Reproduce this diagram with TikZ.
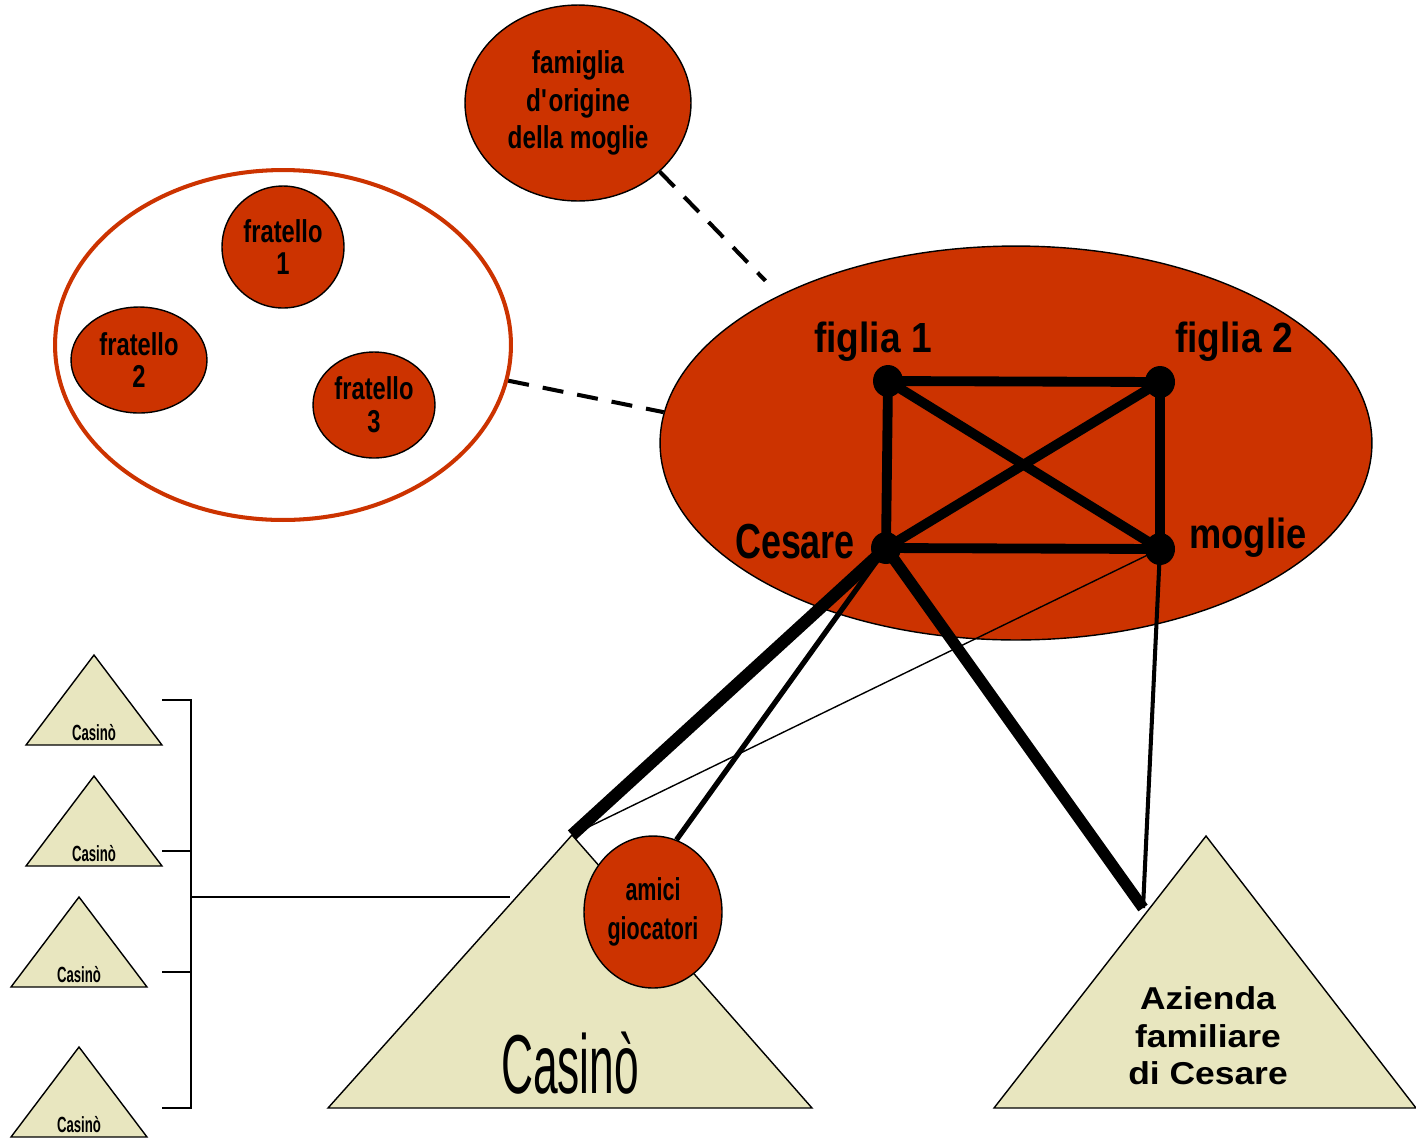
\documentclass[tikz,border=0pt]{standalone}
\usepackage{fontspec}
\setmainfont{Liberation Sans}
\usetikzlibrary{shapes.geometric,positioning}
\definecolor{rosso}{HTML}{CC3300}
\definecolor{sabbia}{HTML}{E8E6BF}
\newcommand{\carattere}[4]{#1\addfontfeatures{FakeStretch=#2}\fontsize{#3}{#4}\selectfont}
\tikzset{
  nodo/.style={ellipse, draw=black, line width=0.8pt, fill=rosso, inner sep=0pt, align=center},
  punto/.style={ellipse, fill=black, minimum width=0.6cm, minimum height=0.64cm, inner sep=0pt},
  nome/.style={anchor=base, inner sep=0pt},
  legame/.style={line width=2.3pt, dash pattern=on 12pt off 8pt},
  forte/.style={line width=5.6pt},
  piramide/.style={draw=black, fill=sabbia, line width=0.8pt},
  parentesi/.style={line width=0.9pt},
}

\begin{document}
\begin{tikzpicture}[x=0.02cm, y=-0.02cm]
  \useasboundingbox (0,0) rectangle (1416,1144);

  % famiglia d'origine e fratelli
  \node[nodo, minimum width=4.52cm, minimum height=3.92cm,
    font=\carattere{\bfseries}{0.77}{18}{21.5}] (fam) at (578,103) {famiglia\\d\textquotesingle origine\\della moglie};
  \node[ellipse, draw=rosso, line width=2.3pt, fill=white, minimum width=9.12cm, minimum height=7cm] (fratelli) at (283,345) {};
  \node[nodo, minimum width=2.44cm, minimum height=2.44cm,
    font=\carattere{\bfseries}{0.75}{18}{18.7}] (fr1) at (283,247) {fratello\\1};
  \node[nodo, minimum width=2.72cm, minimum height=2.12cm,
    font=\carattere{\bfseries}{0.75}{18}{18.7}] (fr2) at (139,360) {fratello\\2};
  \node[nodo, minimum width=2.44cm, minimum height=2.12cm,
    font=\carattere{\bfseries}{0.75}{18}{18.7}] (fr3) at (374,405) {fratello\\3};

  % nucleo familiare
  \node[nodo, minimum width=14.24cm, minimum height=7.88cm] (nucleo) at (1016,443) {};
  \draw[legame] (fam.-40) -- (nucleo.148) [shorten >=0.4cm];
  \draw[legame] (fratelli.-9) -- (nucleo.175);

  \node[punto] (f1) at (888,381) {};
  \node[punto] (f2) at (1160,382) {};
  \node[punto] (ces) at (886,548) {};
  \node[punto] (mog) at (1160,549) {};
  \node[nome, font=\carattere{\bfseries}{0.88}{24}{28}] at (873,352) {figlia 1};
  \node[nome, font=\carattere{\bfseries}{0.88}{24}{28}] at (1234,352) {figlia 2};
  \node[nome, font=\carattere{\bfseries}{0.73}{28}{32}] at (795,558) {Cesare};
  \node[nome, font=\carattere{\bfseries}{0.86}{24}{28}] at (1248,548) {moglie};

  \draw[forte] (f1.center) -- (f2.center) -- (mog.center) -- (ces.center) -- cycle;
  \draw[forte] (f1.center) -- (mog.center);
  \draw[forte] (f2.center) -- (ces.center);

  % casino e azienda
  \coordinate (apice) at (572,835);
  \coordinate (tocco) at (1143,908);
  \draw[piramide] (apice) -- (812,1108) -- (328,1108) -- cycle;
  \draw[piramide] (1206,836) -- (1416,1108) -- (994,1108) -- cycle;
  \node[nome, font=\carattere{\mdseries}{0.53}{47.6}{52}] (casino) at (570,1093) {Casinò};
  \node[align=center, inner sep=0pt, font=\carattere{\bfseries}{1.12}{18}{21.3}] (azienda) at (1208,1036)
    {Azienda\\familiare\\di Cesare};
  \node[nodo, minimum width=2.76cm, minimum height=3.04cm,
    font=\carattere{\bfseries}{0.68}{18}{22}] (amici) at (653,912) {amici\\giocatori};

  \draw[line width=7pt] (ces.center) -- (apice);
  \draw[line width=0.8pt] (mog.center) -- (apice);
  \draw[line width=3pt] (ces.center) -- (amici.72);
  \draw[line width=6.5pt] (ces.center) -- (tocco);
  \draw[line width=2.3pt] (mog.center) -- (tocco);

  % altri casino
  \foreach \x/\y [count=\i] in {94/655, 94/776, 79/897, 79/1047} {
    \draw[piramide] (\x,\y) -- (\x+68,\y+90) -- (\x-68,\y+90) -- cycle;
    \node[nome, font=\carattere{\bfseries}{0.6}{12.5}{14}] (cas\i) at (\x,\y+85) {Casinò};
  }
  \coordinate (g1) at (162,700);
  \coordinate (g2) at (162,851);
  \coordinate (g3) at (162,972);
  \coordinate (g4) at (162,1108);
  \coordinate (gc) at (191,897);
  \draw[parentesi] (g1) -- ++(29,0) |- (g4);
  \draw[parentesi] (g2) -- ++(29,0);
  \draw[parentesi] (g3) -- ++(29,0);
  \draw[parentesi] (gc) -- (apice |- gc) [shorten >=1.24cm];
\end{tikzpicture}
\end{document}
